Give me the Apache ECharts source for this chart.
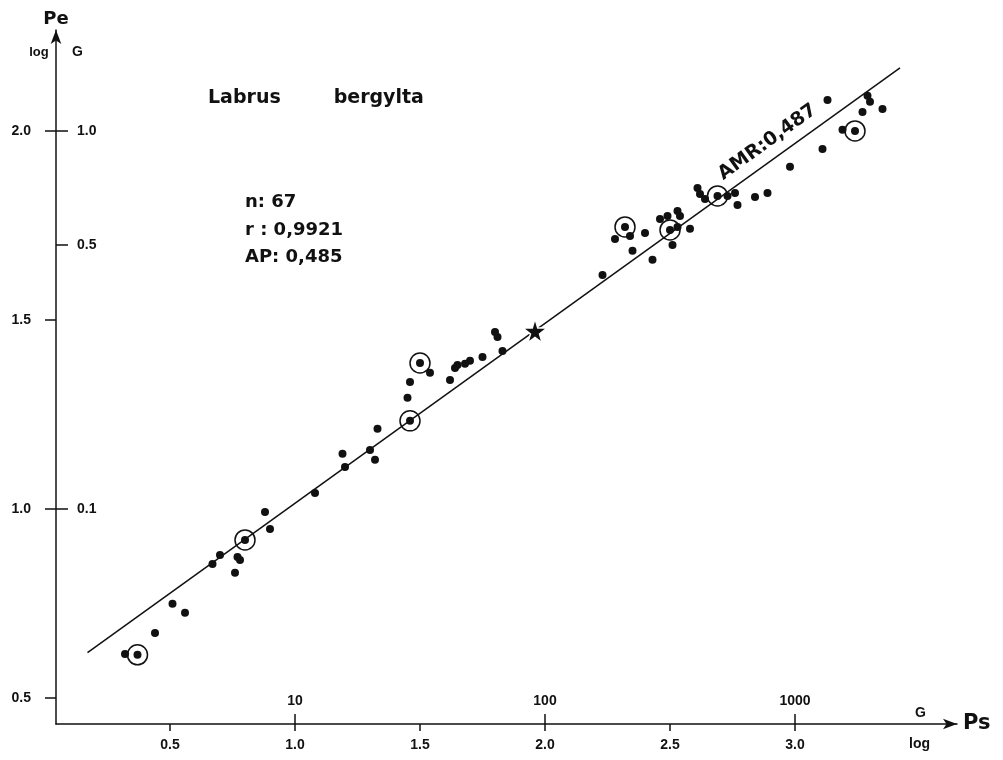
<!DOCTYPE html>
<html><head><meta charset="utf-8">
<script src="https://cdn.jsdelivr.net/npm/echarts@6/dist/echarts.min.js"></script>
<style>html,body{margin:0;padding:0;background:#fff}#c{width:1003px;height:760px}</style>
</head><body><div id="c"></div>
<script>
// ---- data (log Ps in log G units, log Pe) ----
const logPs = [0.32,0.37,0.44,0.51,0.56,0.67,0.70,0.76,0.77,0.78,0.80,0.88,0.90,1.08,1.19,1.20,1.30,1.32,1.33,1.46,1.45,1.46,1.50,1.54,1.62,1.64,1.65,1.68,1.70,1.75,1.80,1.81,1.83,2.23,2.28,2.32,2.34,2.35,2.40,2.43,2.46,2.49,2.50,2.51,2.53,2.54,2.53,2.58,2.61,2.62,2.64,2.69,2.73,2.76,2.77,2.84,2.89,2.98,3.11,3.13,3.19,3.24,3.27,3.29,3.30,3.35];
const logPe = [0.616,0.614,0.672,0.749,0.725,0.854,0.878,0.831,0.873,0.865,0.918,0.992,0.947,1.042,1.146,1.111,1.156,1.130,1.212,1.233,1.294,1.336,1.386,1.360,1.341,1.373,1.381,1.384,1.392,1.402,1.468,1.455,1.418,1.619,1.714,1.746,1.722,1.683,1.730,1.659,1.767,1.775,1.738,1.698,1.788,1.775,1.746,1.741,1.849,1.833,1.820,1.828,1.828,1.836,1.804,1.825,1.836,1.905,1.952,2.082,2.003,2.000,2.050,2.093,2.077,2.058];
const circledIdx = [1,10,19,22,35,42,51,61];
const starPoint = [1.96, 1.471];
const amrLineX = [0.17, 3.42];
const amrLineY = [0.62, 2.167];
const amrLabelAt = [2.89, 1.97];
const xLogTicks = [0.5,1.0,1.5,2.0,2.5,3.0];
const xGramTicks = [10,100,1000];
const yLogTicks = [0.5,1.0,1.5,2.0];
const yGramTicks = [0.1,0.5,1.0];
const titleText = 'Labrus        bergylta';
const statsText = 'n: 67\nr : 0,9921\nAP: 0,485';
const amrText = 'AMR:0,487';

// ---- chart ----
const ink = '#111';
const fTick = 'Liberation Sans, Arial, sans-serif';
const fText = 'DejaVu Sans, sans-serif';
const xMin = 0.044, xMax = 3.648, yMin = 0.431, yMax = 2.267;
const tickLbl = {color: ink, fontSize: 14, fontWeight: 'bold', fontFamily: fTick};
const pts = logPs.map((x, i) => [x, logPe[i]]);
const starPath = 'path://M50,0 L61,35 L98,35 L68,57 L79,91 L50,70 L21,91 L32,57 L2,35 L39,35 Z';

const chart = echarts.init(document.getElementById('c'), null, {renderer: 'canvas'});
chart.setOption({
  backgroundColor: '#fff',
  animation: false,
  title: [
    {text: titleText, left: 208, top: 89, padding: 0,
     textStyle: {fontSize: 19, fontWeight: 'bold', color: ink, fontFamily: fText}},
    {text: statsText, left: 245, top: 189, padding: 0,
     textStyle: {fontSize: 18, fontWeight: 'bold', color: ink, fontFamily: fText, lineHeight: 27.5}}
  ],
  grid: {left: 56, right: 46, top: 30, bottom: 36},
  xAxis: [
    {type: 'value', min: xMin, max: xMax, position: 'bottom',
     axisLine: {show: true, lineStyle: {color: ink, width: 1.5}, symbol: ['none', 'arrow'], symbolSize: [8, 14]},
     axisTick: {show: true, inside: false, length: 7, customValues: xLogTicks, lineStyle: {color: ink, width: 1.5}},
     axisLabel: Object.assign({customValues: xLogTicks, margin: 14, formatter: v => Number(v).toFixed(1)}, tickLbl),
     splitLine: {show: false},
     name: 'Ps', nameLocation: 'end', nameGap: 6,
     nameTextStyle: {fontSize: 21, fontWeight: 'bold', color: ink, fontFamily: fText}},
    {type: 'value', min: xMin, max: xMax, position: 'bottom', offset: 0,
     axisLine: {show: false},
     axisTick: {show: true, inside: true, length: 10, customValues: xGramTicks.map(Math.log10), lineStyle: {color: ink, width: 1.5}},
     axisLabel: Object.assign({inside: true, customValues: xGramTicks.map(Math.log10), margin: 16,
       formatter: v => String(Math.round(Math.pow(10, v)))}, tickLbl),
     splitLine: {show: false},
     name: '{g|G}\n{l|log}', nameLocation: 'end', nameGap: -48,
     nameTextStyle: {rich: {
       g: {fontSize: 14, fontWeight: 'bold', color: ink, fontFamily: fTick, lineHeight: 40, padding: [0, 0, 0, 6]},
       l: {fontSize: 14, fontWeight: 'bold', color: ink, fontFamily: fTick, lineHeight: 22}}}}
  ],
  yAxis: [
    {type: 'value', min: yMin, max: yMax, position: 'left',
     axisLine: {show: true, lineStyle: {color: ink, width: 1.5}, symbol: ['none', 'arrow'], symbolSize: [8, 14]},
     axisTick: {show: true, inside: false, length: 11, customValues: yLogTicks, lineStyle: {color: ink, width: 1.5}},
     axisLabel: Object.assign({customValues: yLogTicks, margin: 25, formatter: v => Number(v).toFixed(1)}, tickLbl),
     splitLine: {show: false},
     name: 'Pe', nameLocation: 'end', nameGap: 2,
     nameTextStyle: {fontSize: 18, fontWeight: 'bold', color: ink, fontFamily: fText}},
    {type: 'value', min: yMin, max: yMax, position: 'left', offset: 0,
     axisLine: {show: false},
     axisTick: {show: true, inside: true, length: 12, customValues: yGramTicks.map(g => 2 + Math.log10(g)), lineStyle: {color: ink, width: 1.5}},
     axisLabel: Object.assign({inside: true, customValues: yGramTicks.map(g => 2 + Math.log10(g)), margin: 21,
       formatter: v => Math.pow(10, v - 2).toFixed(1)}, tickLbl),
     splitLine: {show: false},
     name: '{a|log}       {b|G}', nameLocation: 'end', nameGap: -29,
     nameTextStyle: {rich: {
       a: {fontSize: 13, fontWeight: 'bold', color: ink, fontFamily: fTick},
       b: {fontSize: 14, fontWeight: 'bold', color: ink, fontFamily: fTick}}}}
  ],
  series: [
    {type: 'line', data: amrLineX.map((x, i) => [x, amrLineY[i]]), symbol: 'none', silent: true,
     lineStyle: {color: ink, width: 1.5, opacity: 1}, z: 2},
    {type: 'scatter', data: pts, symbol: 'circle', symbolSize: 8, itemStyle: {color: ink, opacity: 1}, z: 3},
    {type: 'scatter', data: circledIdx.map(i => pts[i]), symbol: 'circle', symbolSize: 20,
     itemStyle: {color: 'rgba(0,0,0,0)', borderColor: ink, borderWidth: 1.5, opacity: 1}, z: 4},
    {type: 'scatter', data: [starPoint], symbol: starPath, symbolSize: 24,
     itemStyle: {color: ink, borderColor: '#fff', borderWidth: 1.5, opacity: 1}, z: 5},
    {type: 'scatter', data: [amrLabelAt], symbolSize: 0, silent: true, z: 6,
     itemStyle: {opacity: 1},
     label: {show: true, position: 'inside', formatter: amrText, rotate: 35.8, opacity: 1,
       fontSize: 19, fontWeight: 'bold', color: ink, fontFamily: fText}}
  ]
});
</script>
</body></html>
